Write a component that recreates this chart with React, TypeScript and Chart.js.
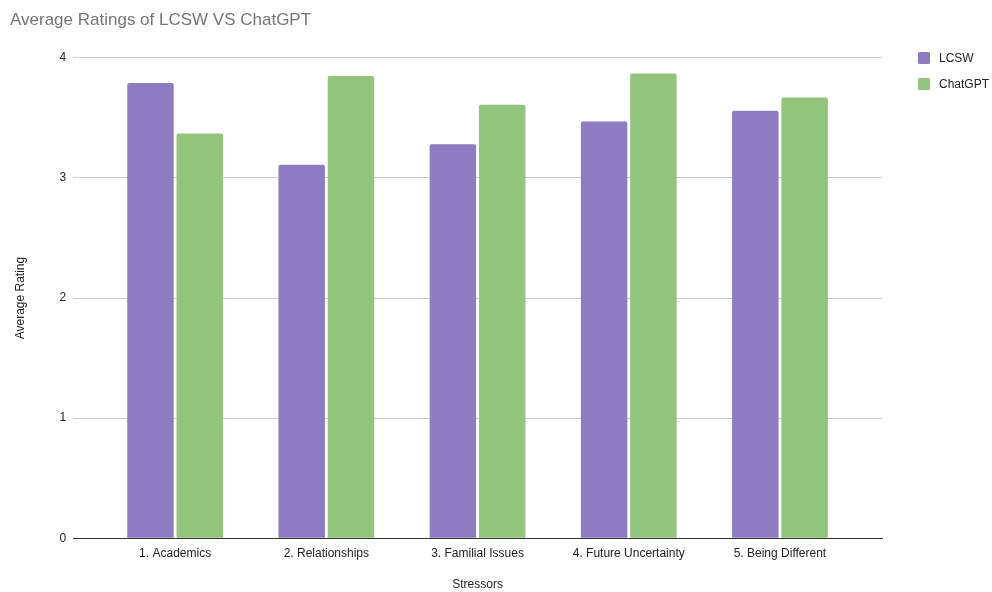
import React, { useEffect, useRef } from "react";
import { Chart, registerables } from "chart.js";

Chart.register(...registerables);

const categories = ["1. Academics", "2. Relationships", "3. Familial Issues", "4. Future Uncertainty", "5. Being Different"];
const lcswValues = [3.79, 3.11, 3.28, 3.47, 3.56];
const chatgptValues = [3.37, 3.85, 3.61, 3.87, 3.67];
const yTicks = [0, 1, 2, 3, 4];
const seriesNames = ["LCSW", "ChatGPT"];
const seriesColors = ["#8e7cc3", "#93c47d"];

const FONT = "'Liberation Sans', Arial, sans-serif";

const legendPlugin = {
  id: "sideLegend",
  afterDraw(chart: any) {
    const ctx = chart.ctx;
    ctx.save();
    ctx.font = `12px ${FONT}`;
    ctx.textBaseline = "middle";
    ctx.textAlign = "left";
    chart.data.datasets.forEach((ds: any, i: number) => {
      const cy = 58 + i * 26;
      ctx.fillStyle = ds.backgroundColor;
      ctx.beginPath();
      if (ctx.roundRect) ctx.roundRect(918, cy - 6, 12, 12, 1.5);
      else ctx.rect(918, cy - 6, 12, 12);
      ctx.fill();
      ctx.fillStyle = "#222";
      ctx.fillText(ds.label, 939, cy + 0.5);
    });
    ctx.restore();
  },
};

export default function App() {
  const ref = useRef<HTMLCanvasElement>(null);
  useEffect(() => {
    document.body.style.margin = "0";
    const ctx = ref.current!;
    const chart = new Chart(ctx, {
      type: "bar",
      data: {
        datasets: [
          {
            label: seriesNames[0],
            data: lcswValues.map((v, i) => ({ x: i, y: v })),
            backgroundColor: seriesColors[0],
            borderRadius: 2,
            categoryPercentage: 0.652,
            barPercentage: 0.943,
          },
          {
            label: seriesNames[1],
            data: chatgptValues.map((v, i) => ({ x: i, y: v })),
            backgroundColor: seriesColors[1],
            borderRadius: 2,
            categoryPercentage: 0.652,
            barPercentage: 0.943,
          },
        ],
      },
      plugins: [legendPlugin],
      options: {
        responsive: false,
        animation: false,
        layout: { padding: { left: 10, right: 110, top: 0, bottom: 0 } },
        plugins: {
          title: {
            display: true,
            text: "Average Ratings of LCSW VS ChatGPT",
            align: "start",
            color: "#757575",
            font: { family: FONT, size: 17, weight: "normal" },
            padding: { top: 10, bottom: 27.5 },
          },
          legend: { display: false },
          tooltip: { enabled: false },
        },
        scales: {
          x: {
            type: "linear",
            offset: false,
            min: -0.675,
            max: categories.length - 1 + 0.675,
            afterBuildTicks: (axis: any) => {
              axis.ticks = categories.map((_, i) => ({ value: i }));
            },
            grid: { display: false, drawTicks: false },
            border: { display: true, color: "#333", width: 1 },
            ticks: {
              color: "#222",
              font: { family: FONT, size: 12 },
              padding: 8,
              autoSkip: false,
              maxRotation: 0,
              callback: (v: any) => categories[v] ?? "",
            },
            title: { display: true, text: "Stressors", color: "#222", font: { family: FONT, size: 12 }, padding: { top: 9, bottom: 0 } },
          },
          y: {
            min: 0,
            max: 4,
            afterBuildTicks: (axis: any) => {
              axis.ticks = yTicks.map((v) => ({ value: v }));
            },
            grid: { color: (c: any) => (c.tick && c.tick.value === 0 ? "#333" : "#cccccc"), lineWidth: 1, drawTicks: false },
            border: { display: false },
            ticks: { color: "#222", font: { family: FONT, size: 12 }, padding: 7 },
            title: { display: true, text: "Average Rating", color: "#222", font: { family: FONT, size: 12 }, padding: { top: 3, bottom: 25 } },
          },
        },
      },
    });
    return () => chart.destroy();
  }, []);
  return (
    <div style={{ position: "absolute", left: 0, top: 0, width: 992, height: 592 }}>
      <canvas ref={ref} width={992} height={592} />
    </div>
  );
}
